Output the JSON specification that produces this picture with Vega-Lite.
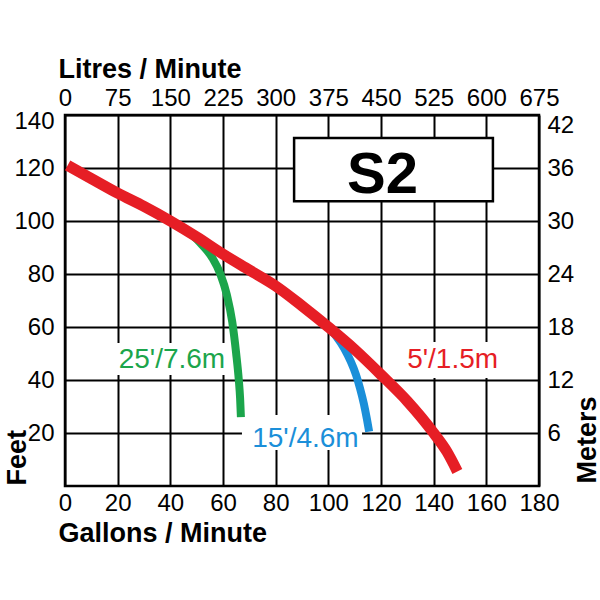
{
  "$schema": "https://vega.github.io/schema/vega-lite/v6.json",
  "width": 474,
  "height": 371,
  "autosize": {"type": "none"},
  "padding": {"left": 65, "top": 115, "right": 61, "bottom": 114},
  "background": "white",
  "config": {"view": {"stroke": "#000", "strokeWidth": 2.5}},
  "datasets": {
    "red": [
      {"gpm": 1, "ft": 121}, {"gpm": 10, "ft": 116}, {"gpm": 20, "ft": 110.5}, {"gpm": 30, "ft": 105.5},
      {"gpm": 40, "ft": 100}, {"gpm": 50, "ft": 94}, {"gpm": 60, "ft": 87.5}, {"gpm": 70, "ft": 81.5},
      {"gpm": 80, "ft": 75.5}, {"gpm": 90, "ft": 68}, {"gpm": 100, "ft": 60}, {"gpm": 110, "ft": 51.5},
      {"gpm": 120, "ft": 42}, {"gpm": 130, "ft": 32}, {"gpm": 140, "ft": 20}, {"gpm": 145, "ft": 13},
      {"gpm": 149, "ft": 5.5}
    ],
    "green": [
      {"gpm": 47, "ft": 96}, {"gpm": 52, "ft": 91}, {"gpm": 56, "ft": 86}, {"gpm": 59, "ft": 80},
      {"gpm": 61.5, "ft": 72}, {"gpm": 63.5, "ft": 62}, {"gpm": 65, "ft": 50}, {"gpm": 66, "ft": 40},
      {"gpm": 66.5, "ft": 33}, {"gpm": 66.8, "ft": 26}
    ],
    "blue": [
      {"gpm": 100, "ft": 60}, {"gpm": 103, "ft": 56.5}, {"gpm": 106, "ft": 52}, {"gpm": 108.5, "ft": 47},
      {"gpm": 110.5, "ft": 42}, {"gpm": 112, "ft": 37}, {"gpm": 113.5, "ft": 31}, {"gpm": 114.7, "ft": 25},
      {"gpm": 115.5, "ft": 20.5}
    ],
    "boxes": [
      {"series": "25", "x1": 17.8, "x2": 64, "y1": 41.9, "y2": 54},
      {"series": "15", "x1": 67.2, "x2": 112.8, "y1": 13.6, "y2": 26.8},
      {"series": "5", "x1": 127, "x2": 165, "y1": 40.8, "y2": 54.3}
    ],
    "labels": [
      {"series": "25", "label": "25'/7.6m", "gpm": 40.6, "ft": 44.5},
      {"series": "15", "label": "15'/4.6m", "gpm": 91.3, "ft": 14.7},
      {"series": "5", "label": "5'/1.5m", "gpm": 147.2, "ft": 44.5}
    ],
    "title": [{"label": "S2", "x1": 87, "x2": 162.5, "y1": 107.5, "y2": 131.3, "gpm": 120.6, "ft": 110.6}],
    "aux": [{"litres": 0, "meters": 0}]
  },
  "layer": [
    {
      "layer": [
        {
          "data": {"name": "boxes"},
          "mark": {"type": "rect", "fill": "white", "stroke": null},
          "encoding": {
            "x": {
              "field": "x1", "type": "quantitative",
              "scale": {"domain": [0, 180], "nice": false, "zero": false},
              "axis": {
                "orient": "bottom",
                "values": [0, 20, 40, 60, 80, 100, 120, 140, 160, 180],
                "grid": true, "gridColor": "#000", "gridWidth": 2, "gridOpacity": 1,
                "ticks": false, "domain": false,
                "labelFont": "Liberation Sans", "labelFontSize": 24, "labelColor": "#000",
                "labelPadding": 5, "labelFlush": false, "labelOverlap": false,
                "title": "Gallons / Minute",
                "titleFont": "Liberation Sans", "titleFontWeight": "bold", "titleFontSize": 27,
                "titleColor": "#000", "titleAlign": "left", "titleBaseline": "alphabetic",
                "titleAnchor": null, "titleX": -7, "titleY": 55
              }
            },
            "x2": {"field": "x2"},
            "y": {
              "field": "y1", "type": "quantitative",
              "scale": {"domain": [0, 140], "nice": false, "zero": false},
              "axis": {
                "orient": "left",
                "values": [20, 40, 60, 80, 100, 120, 140],
                "grid": true, "gridColor": "#000", "gridWidth": 2, "gridOpacity": 1,
                "ticks": false, "domain": false,
                "labelFont": "Liberation Sans", "labelFontSize": 24, "labelColor": "#000",
                "labelPadding": 11, "labelFlush": true, "labelFlushOffset": 6, "labelOverlap": false,
                "title": "Feet",
                "titleFont": "Liberation Sans", "titleFontWeight": "bold", "titleFontSize": 27,
                "titleColor": "#000", "titleAngle": 270, "titleAlign": "left", "titleBaseline": "alphabetic",
                "titleAnchor": null, "titleX": -40, "titleY": 370
              }
            },
            "y2": {"field": "y2"}
          }
        },
        {
          "data": {"name": "title"},
          "mark": {"type": "rect", "fill": "white", "stroke": "#000", "strokeWidth": 2.5},
          "encoding": {
            "x": {"field": "x1", "type": "quantitative"},
            "x2": {"field": "x2"},
            "y": {"field": "y1", "type": "quantitative"},
            "y2": {"field": "y2"}
          }
        },
        {
          "data": {"name": "green"},
          "mark": {"type": "line", "color": "#1ba54b", "strokeWidth": 8, "interpolate": "monotone"},
          "encoding": {
            "x": {"field": "gpm", "type": "quantitative"},
            "y": {"field": "ft", "type": "quantitative"}
          }
        },
        {
          "data": {"name": "blue"},
          "mark": {"type": "line", "color": "#1b8fd9", "strokeWidth": 8, "interpolate": "monotone"},
          "encoding": {
            "x": {"field": "gpm", "type": "quantitative"},
            "y": {"field": "ft", "type": "quantitative"}
          }
        },
        {
          "data": {"name": "red"},
          "mark": {"type": "line", "color": "#e61e25", "strokeWidth": 11, "interpolate": "monotone"},
          "encoding": {
            "x": {"field": "gpm", "type": "quantitative"},
            "y": {"field": "ft", "type": "quantitative"}
          }
        },
        {
          "data": {"name": "labels"},
          "mark": {"type": "text", "font": "Liberation Sans", "fontSize": 28, "align": "center", "baseline": "alphabetic"},
          "encoding": {
            "x": {"field": "gpm", "type": "quantitative"},
            "y": {"field": "ft", "type": "quantitative"},
            "text": {"field": "label"},
            "color": {
              "field": "series", "type": "nominal", "legend": null,
              "scale": {"domain": ["25", "15", "5"], "range": ["#1ba54b", "#1b8fd9", "#e61e25"]}
            }
          }
        },
        {
          "data": {"name": "title"},
          "mark": {"type": "text", "font": "Liberation Sans", "fontWeight": "bold", "fontSize": 58, "align": "center", "baseline": "alphabetic", "color": "#000"},
          "encoding": {
            "x": {"field": "gpm", "type": "quantitative"},
            "y": {"field": "ft", "type": "quantitative"},
            "text": {"field": "label"}
          }
        }
      ]
    },
    {
      "data": {"name": "aux"},
      "mark": {"type": "point", "opacity": 0},
      "encoding": {
        "x": {
          "field": "litres", "type": "quantitative",
          "scale": {"domain": [0, 675], "nice": false, "zero": false},
          "axis": {
            "orient": "top",
            "values": [0, 75, 150, 225, 300, 375, 450, 525, 600, 675],
            "grid": false, "ticks": false, "domain": false,
            "labelFont": "Liberation Sans", "labelFontSize": 24, "labelColor": "#000",
            "labelPadding": 5, "labelFlush": false, "labelOverlap": false,
            "title": "Litres / Minute",
            "titleFont": "Liberation Sans", "titleFontWeight": "bold", "titleFontSize": 27,
            "titleColor": "#000", "titleAlign": "left", "titleBaseline": "alphabetic",
            "titleAnchor": null, "titleX": -7, "titleY": -38
          }
        },
        "y": {
          "field": "meters", "type": "quantitative",
          "scale": {"domain": [0, 42], "nice": false, "zero": false},
          "axis": {
            "orient": "right",
            "values": [6, 12, 18, 24, 30, 36, 42],
            "grid": false, "ticks": false, "domain": false,
            "labelFont": "Liberation Sans", "labelFontSize": 24, "labelColor": "#000",
            "labelPadding": 8, "labelFlush": true, "labelFlushOffset": 2, "labelOverlap": false,
            "title": "Meters",
            "titleFont": "Liberation Sans", "titleFontWeight": "bold", "titleFontSize": 27,
            "titleColor": "#000", "titleAngle": 270, "titleAlign": "left", "titleBaseline": "alphabetic",
            "titleAnchor": null, "titleX": 56, "titleY": 368
          }
        }
      }
    }
  ],
  "resolve": {"scale": {"x": "independent", "y": "independent"}}
}
